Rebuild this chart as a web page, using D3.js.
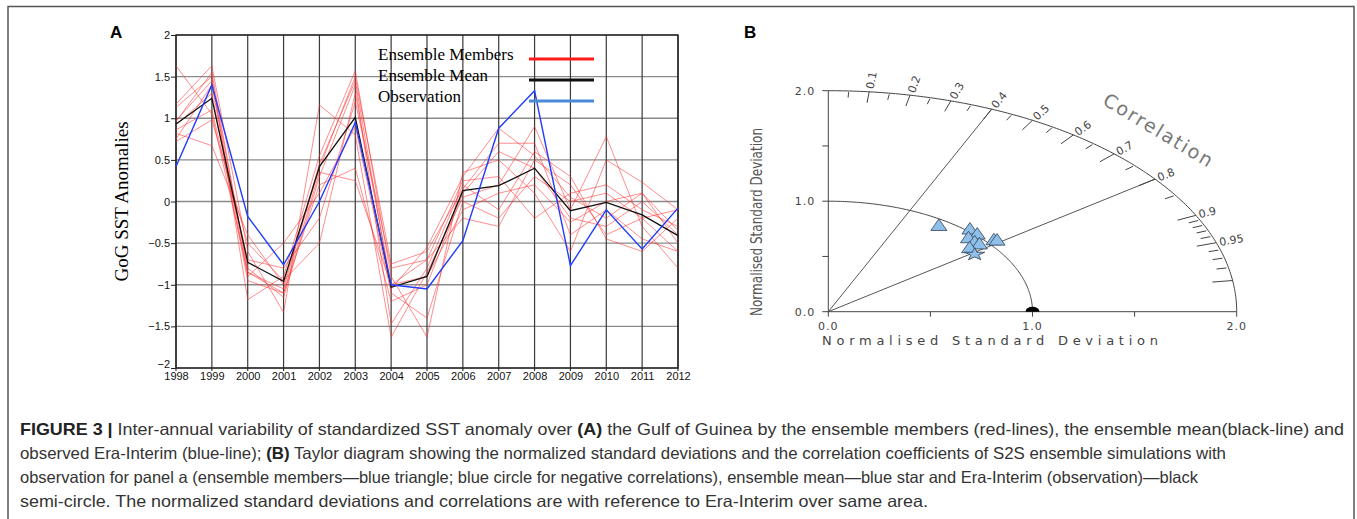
<!DOCTYPE html>
<html><head><meta charset="utf-8">
<script src="https://cdn.jsdelivr.net/npm/d3@7"></script>
<style>body{margin:0;background:#fff}svg{display:block}</style>
</head><body><svg id="c" width="1357" height="519"></svg>
<script>
// ---------- Panel A data ----------
const years = [1998,1999,2000,2001,2002,2003,2004,2005,2006,2007,2008,2009,2010,2011,2012];
const yTicks = [-2,-1.5,-1,-0.5,0,0.5,1,1.5,2];
const observation = [0.42,1.40,-0.18,-0.76,0.00,0.95,-1.00,-1.05,-0.47,0.88,1.33,-0.77,-0.10,-0.57,-0.08];
const ensembleMean = [0.93,1.24,-0.73,-0.96,0.42,1.01,-1.03,-0.90,0.13,0.19,0.40,-0.11,-0.01,-0.16,-0.41];
const member1  = [1.63,1.05,-0.85,-1.05,0.45,1.45,-1.05,-0.55,0.30,0.88,0.55,0.05,-0.20,0.10,-0.35];
const member2  = [1.17,1.63,-0.60,-1.33,1.16,0.80,-1.63,-0.85,0.05,0.20,0.90,-0.10,0.78,-0.30,-0.80];
const member3  = [1.13,1.50,-1.18,-0.90,0.55,1.57,-0.90,-1.63,0.35,0.50,0.10,-0.60,0.50,0.23,-0.10];
const member4  = [0.97,1.45,-0.80,-1.15,0.30,1.40,-1.47,-0.80,0.20,-0.10,0.60,0.30,-0.45,-0.60,-0.20];
const member5  = [0.92,1.30,-0.95,-1.10,0.20,0.40,-1.20,-1.00,0.10,0.60,0.40,-0.20,-0.30,0.00,-0.40];
const member6  = [0.86,1.10,-0.70,-0.80,-0.20,1.20,-0.80,-0.70,0.25,0.30,-0.20,0.10,0.20,-0.10,-0.30];
const member7  = [0.82,0.67,-0.40,-1.00,0.40,1.50,-0.75,-0.60,0.15,0.70,0.70,-0.40,-0.10,-0.45,-0.60];
const member8  = [0.75,1.40,-0.90,-0.50,0.10,0.90,-1.10,-1.40,0.00,-0.20,0.30,0.00,0.10,-0.20,-0.10];
const member9  = [0.72,0.98,-0.50,-0.95,-0.50,1.30,-1.00,-0.90,-0.10,0.10,0.20,-0.25,0.00,0.10,-0.50];
const member10 = [0.96,1.55,-0.85,-1.10,0.35,0.25,-1.00,-0.70,-0.20,-0.30,0.50,0.20,-0.40,-0.20,-0.60];
const members = [member1,member2,member3,member4,member5,member6,member7,member8,member9,member10];
const legendLabels = ["Ensemble Members","Ensemble Mean","Observation"];

// ---------- Panel B data ----------
const memberStd  = [0.95,1.02,1.013,0.959,0.956,0.961,0.902,1.04,1.05];
const memberCorr = [0.57,0.68,0.72,0.716,0.75,0.77,0.767,0.78,0.787];
const meanStd = [0.885];
const meanCorr = [0.81];
const obsStd = [1.0];
const obsCorr = [1.0];
const stdTicks = [0,0.5,1,1.5,2];
const stdLabels = ["0.0","1.0","2.0"];
const corrMajor = [0.1,0.2,0.3,0.4,0.5,0.6,0.7,0.8,0.9,0.95,0.99];
const corrMinor = [0.05,0.15,0.25,0.35,0.45,0.55,0.65,0.75,0.85,0.91,0.92,0.93,0.94,0.96,0.97,0.98];
const corrLabels = ["0.1","0.2","0.3","0.4","0.5","0.6","0.7","0.8","0.9","0.95"];
const corrRays = [0.4,0.8];

const caption = [
  [["FIGURE 3 | ",true],["Inter-annual variability of standardized SST anomaly over ",false],["(A)",true],[" the Gulf of Guinea by the ensemble members (red-lines), the ensemble mean(black-line) and",false]],
  [["observed Era-Interim (blue-line); ",false],["(B)",true],[" Taylor diagram showing the normalized standard deviations and the correlation coefficients of S2S ensemble simulations with",false]],
  [["observation for panel a (ensemble members\u2014blue triangle; blue circle for negative correlations), ensemble mean\u2014blue star and Era-Interim (observation)\u2014black",false]],
  [["semi-circle. The normalized standard deviations and correlations are with reference to Era-Interim over same area.",false]]
];
const captionWidths = [1324,1206,1178,908];

const svg = d3.select("#c");

// frame
svg.append("path").attr("d","M8,530 V6.5 H1354 V530").attr("fill","none").attr("stroke","#555").attr("stroke-width",1.5);

// ---------- Panel A ----------
const x = d3.scaleLinear().domain([1998,2012]).range([176,678]);
const y = d3.scaleLinear().domain([-2,2]).range([368,35]);
const gA = svg.append("g");

gA.selectAll(".hg").data(yTicks).enter().append("line")
  .attr("x1",x(1998)).attr("x2",x(2012)).attr("y1",d=>y(d)).attr("y2",d=>y(d))
  .attr("stroke","#8a8a8a").attr("stroke-width",1.3);
gA.selectAll(".vg").data(years).enter().append("line")
  .attr("x1",d=>x(d)).attr("x2",d=>x(d)).attr("y1",y(2)).attr("y2",y(-2)+3)
  .attr("stroke","#3a3a3a").attr("stroke-width",1.2);

const yAxis = d3.axisLeft(y).tickValues(yTicks).tickSize(5).tickFormat(d=>d===0?"0":d3.format("")(d).replace("-","\u2212"));
const ga = gA.append("g").attr("transform",`translate(${x(1998)},0)`).call(yAxis);
ga.select(".domain").remove();
ga.selectAll("line").attr("stroke","#222");
ga.selectAll("text").attr("font-family","Liberation Sans, Arial, sans-serif").attr("font-size",11).attr("fill","#111").attr("x",-6)
  .attr("dy",d=>d===-2?"-0.05em":"0.32em");
const xAxis = d3.axisBottom(x).tickValues(years).tickSize(0).tickFormat(d3.format("d"));
const gx = gA.append("g").attr("transform",`translate(0,${y(-2)})`).call(xAxis);
gx.select(".domain").remove();
gx.selectAll("text").attr("font-family","Liberation Sans, Arial, sans-serif").attr("font-size",11).attr("fill","#111").attr("dy","0.6em").attr("y",5);

gA.append("rect").attr("x",x(1998)).attr("y",y(2)).attr("width",x(2012)-x(1998)).attr("height",y(-2)-y(2))
  .attr("fill","none").attr("stroke","#222").attr("stroke-width",1.4);

const line = d3.line().x((d,i)=>x(years[i])).y(d=>y(d));
gA.selectAll(".mem").data(members).enter().append("path")
  .attr("d",line).attr("fill","none").attr("stroke","#ff3030").attr("stroke-opacity",0.55).attr("stroke-width",1);
gA.append("path").datum(ensembleMean).attr("d",line).attr("fill","none").attr("stroke","#111").attr("stroke-width",1.3);
gA.append("path").datum(observation).attr("d",line).attr("fill","none").attr("stroke","#1f3cff").attr("stroke-width",1.4);

const legColors = ["#ff1a1a","#111","#4a8ad8"];
legendLabels.forEach((t,i)=>{
  const ly = 59 + i*21;
  gA.append("text").attr("x",378).attr("y",ly+1).text(t)
    .attr("font-family","Liberation Serif, Times New Roman, serif").attr("font-size",17).attr("fill","#000");
  gA.append("line").attr("x1",529).attr("x2",594).attr("y1",ly).attr("y2",ly).attr("stroke",legColors[i]).attr("stroke-width",3);
});

gA.append("text").attr("transform",`translate(128,${y(0)}) rotate(-90)`).attr("text-anchor","middle")
  .attr("font-family","Liberation Serif, Times New Roman, serif").attr("font-size",19).text("GoG SST Anomalies");
svg.append("text").attr("x",110).attr("y",38).text("A").attr("font-family","Liberation Sans, Arial, sans-serif").attr("font-weight","bold").attr("font-size",17);

// ---------- Panel B ----------
const xs = d3.scaleLinear().domain([0,2]).range([828.3,1236.7]);
const ys = d3.scaleLinear().domain([0,2]).range([311.7,90.7]);
const gB = svg.append("g");
const thin = "DejaVu Sans, sans-serif";
const P = (r,c)=>[xs(r*c), ys(r*Math.sqrt(Math.max(0,1-c*c)))];

gB.append("line").attr("x1",xs(0)).attr("x2",xs(2)).attr("y1",ys(0)).attr("y2",ys(0)).attr("stroke","#444");
gB.append("line").attr("x1",xs(0)).attr("x2",xs(0)).attr("y1",ys(0)).attr("y2",ys(2)).attr("stroke","#444");
gB.selectAll(".xt").data(stdTicks).enter().append("line")
  .attr("x1",d=>xs(d)).attr("x2",d=>xs(d)).attr("y1",ys(0)).attr("y2",ys(0)+5).attr("stroke","#444");
gB.selectAll(".yt").data(stdTicks).enter().append("line")
  .attr("x1",xs(0)).attr("x2",xs(0)-6).attr("y1",d=>ys(d)).attr("y2",d=>ys(d)).attr("stroke","#444");
gB.selectAll(".xl").data(stdLabels).enter().append("text")
  .attr("x",(d,i)=>xs(i)).attr("y",ys(0)+18).attr("text-anchor","middle").text(d=>d)
  .attr("font-family",thin).attr("font-size",11).attr("fill","#444").attr("letter-spacing",1);
gB.selectAll(".yl").data(stdLabels).enter().append("text")
  .attr("x",xs(0)-13).attr("y",(d,i)=>ys(i)+4).attr("text-anchor","end").text(d=>d)
  .attr("font-family",thin).attr("font-size",11).attr("fill","#444").attr("letter-spacing",1);

const angles = d3.range(0,90.01,0.5).map(a=>a*Math.PI/180);
const arc = r => d3.line()(angles.map(a=>[xs(r*Math.cos(a)), ys(r*Math.sin(a))]));
gB.append("path").attr("d",arc(2)).attr("fill","none").attr("stroke","#444");
gB.append("path").attr("d",arc(1)).attr("fill","none").attr("stroke","#444");

gB.selectAll(".ray").data(corrRays).enter().append("line")
  .attr("x1",xs(0)).attr("y1",ys(0)).attr("x2",d=>P(2,d)[0]).attr("y2",d=>P(2,d)[1]).attr("stroke","#444").attr("stroke-width",0.9);

gB.selectAll(".cmaj").data(corrMajor).enter().append("line")
  .attr("x1",d=>P(2,d)[0]).attr("y1",d=>P(2,d)[1]).attr("x2",d=>P(1.9,d)[0]).attr("y2",d=>P(1.9,d)[1]).attr("stroke","#444");
gB.selectAll(".cmin").data(corrMinor).enter().append("line")
  .attr("x1",d=>P(1.99,d)[0]).attr("y1",d=>P(1.99,d)[1]).attr("x2",d=>P(1.94,d)[0]).attr("y2",d=>P(1.94,d)[1]).attr("stroke","#444");
gB.selectAll(".clab").data(corrLabels).enter().append("text")
  .each(function(d){
    const c=+d; const p=P(2,c); const dx=p[0]-xs(0), dy=p[1]-ys(0); const L=Math.hypot(dx,dy);
    const ux=dx/L, uy=dy/L; const ang=Math.atan2(uy,ux)*180/Math.PI;
    d3.select(this).attr("transform",`translate(${p[0]+ux*3},${p[1]+uy*3}) rotate(${ang})`);
  })
  .attr("dy","0.35em").text(d=>d).attr("font-family",thin).attr("font-size",11).attr("fill","#444");
gB.append("text").attr("transform","translate(1158,130) rotate(31)").attr("text-anchor","middle").attr("dy","0.35em")
  .attr("font-family",thin).attr("font-size",19).attr("fill","#777").attr("textLength",124).attr("lengthAdjust","spacing").text("Correlation");

gB.append("text").attr("x",990).attr("y",345).attr("text-anchor","middle").attr("font-family",thin).attr("font-size",13)
  .attr("fill","#444").attr("textLength",336).attr("lengthAdjust","spacing").text("Normalised Standard Deviation");
gB.append("text").attr("transform","translate(762,222) rotate(-90)").attr("text-anchor","middle").attr("font-family",thin).attr("font-size",15)
  .attr("fill","#555").attr("textLength",188).attr("lengthAdjust","spacingAndGlyphs").text("Normalised Standard Deviation");

const tri = "M0,-6.5L8,5L-8,5Z";
gB.selectAll(".mk").data(memberStd).enter().append("path")
  .attr("d",tri).attr("transform",(d,i)=>`translate(${P(d,memberCorr[i])[0]},${P(d,memberCorr[i])[1]})`)
  .attr("fill","#8fc0ea").attr("stroke","#2e3f55").attr("stroke-width",0.8);
gB.selectAll(".st").data(meanStd).enter().append("path")
  .attr("d",d3.symbol(d3.symbolStar,80)()).attr("transform",(d,i)=>`translate(${P(d,meanCorr[i])[0]},${P(d,meanCorr[i])[1]}) scale(1.25,0.8)`)
  .attr("fill","#8fc0ea").attr("stroke","#2e3f55").attr("stroke-width",0.8);
gB.selectAll(".ob").data(obsStd).enter().append("path")
  .attr("d","M-7,0 A7,5 0 0 1 7,0 Z").attr("transform",(d,i)=>`translate(${P(d,obsCorr[i])[0]},${P(d,obsCorr[i])[1]})`)
  .attr("fill","#000");

svg.append("text").attr("x",744).attr("y",38).text("B").attr("font-family","Liberation Sans, Arial, sans-serif").attr("font-weight","bold").attr("font-size",17);

// ---------- Caption ----------
const capFont = "'Liberation Sans', Arial, sans-serif";
const capG = svg.append("g");
caption.forEach((segs,i)=>{
  const t = capG.append("text").attr("x",20).attr("y",435+i*24).attr("font-family",capFont).attr("font-size",16.5).attr("fill","#333")
    .attr("textLength",captionWidths[i]).attr("lengthAdjust","spacingAndGlyphs");
  segs.forEach(s=>t.append("tspan").text(s[0]).attr("font-weight",s[1]?"bold":"normal").attr("fill",s[1]?"#222":"#333"));
});
</script></body></html>
